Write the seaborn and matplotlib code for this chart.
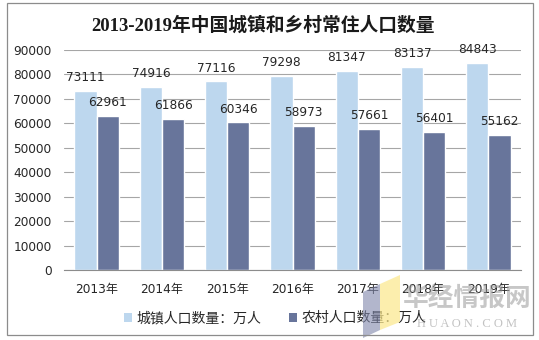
import matplotlib
matplotlib.use("Agg")
import matplotlib.pyplot as plt
import seaborn as sns
import pandas as pd
from matplotlib.patches import Rectangle, Polygon
from matplotlib.ticker import FixedLocator, MultipleLocator

years = ["2013年", "2014年", "2015年", "2016年", "2017年", "2018年", "2019年"]
urban = [73111, 74916, 77116, 79298, 81347, 83137, 84843]
rural = [62961, 61866, 60346, 58973, 57661, 56401, 55162]
series_names = ["城镇人口数量：万人", "农村人口数量：万人"]
title = "2013-2019年中国城镇和乡村常住人口数量"
colors = ["#BDD7EE", "#68759B"]

sns.set_theme(style="white")
plt.rcParams["font.family"] = ["DejaVu Sans", "Noto Sans CJK SC"]

df = pd.DataFrame({
    "year": years * 2,
    "value": urban + rural,
    "series": [series_names[0]] * len(years) + [series_names[1]] * len(years),
})

fig = plt.figure(figsize=(5.39, 3.40), dpi=100)
fig.patch.set_facecolor("white")
ax = fig.add_axes([64 / 539, 1 - 270 / 340, 457 / 539, 220 / 340])

sns.barplot(data=df, x="year", y="value", hue="series", palette=colors,
            width=0.68, gap=0, saturation=1, legend=False, ax=ax, zorder=3)

ax.set_ylim(0, 90000)
ax.set_xlim(-0.5, len(years) - 0.5)
ax.yaxis.set_major_locator(MultipleLocator(10000))
ax.grid(axis="y", color="#A6A6A6", linewidth=0.8, zorder=0)
ax.grid(axis="x", visible=False)
ax.set_axisbelow(True)
for s in ["left", "right", "top"]:
    ax.spines[s].set_visible(False)
ax.spines["bottom"].set_color("#8C8C8C")
ax.spines["bottom"].set_linewidth(0.8)
ax.spines["bottom"].set_zorder(4)
ax.set_xlabel("")
ax.set_ylabel("")
ax.tick_params(axis="y", length=0, pad=9, labelsize=8.7, labelcolor="#262626")
ax.tick_params(axis="x", which="major", length=0, pad=9, labelsize=8.7, labelcolor="#262626")
ax.xaxis.set_minor_locator(FixedLocator([i - 0.5 for i in range(len(years) + 1)]))
ax.tick_params(axis="x", which="minor", length=4, width=0.8, color="#8C8C8C", direction="out")

for cont in ax.containers:
    for bar in cont:
        h = bar.get_height()
        ax.annotate(f"{int(round(h))}", (bar.get_x() + bar.get_width() / 2, h),
                    xytext=(0, 5), textcoords="offset points", ha="center", va="bottom",
                    fontsize=8.7, color="#262626", zorder=5)

fig.text(0.488, 1 - 26 / 340, title, ha="center", va="center", fontsize=13.5,
         fontweight="bold", family=["Liberation Serif", "Noto Sans CJK SC"], color="#1A1A1A")

handles = [Rectangle((0, 0), 1, 1, facecolor=c, edgecolor="none") for c in colors]
fig.legend(handles, series_names, loc="center", bbox_to_anchor=(0.51, 1 - 318 / 340),
           ncol=2, frameon=False, fontsize=10, handlelength=0.6, handleheight=0.6,
           handletextpad=0.3, columnspacing=2.0, labelcolor="#262626")

# watermark
fig.patches.append(Polygon([(363 / 539, 1 - 292 / 340), (380 / 539, 1 - 284 / 340),
                            (380 / 539, 1 - 330 / 340), (363 / 539, 1 - 338 / 340)],
                           closed=True, transform=fig.transFigure, facecolor="#7F86AA",
                           alpha=0.6, edgecolor="none", zorder=10))
fig.patches.append(Polygon([(380 / 539, 1 - 284 / 340), (400 / 539, 1 - 275 / 340),
                            (400 / 539, 1 - 322 / 340), (380 / 539, 1 - 330 / 340)],
                           closed=True, transform=fig.transFigure, facecolor="#FCE88A",
                           alpha=0.7, edgecolor="none", zorder=10))
fig.text(467 / 539, 1 - 298 / 340, "华经情报网", ha="center", va="center", fontsize=18.5,
         fontweight="bold", color="#9A9A9A", alpha=0.55, family=["Noto Sans CJK SC"], zorder=11)
fig.text(467 / 539, 1 - 324 / 340, "H U A O N . C O M", ha="center", va="center", fontsize=9,
         color="#9A9A9A", alpha=0.6, family=["Liberation Serif"], zorder=11)

# outer border
fig.patches.append(Rectangle((7 / 539, 1 - 335 / 340), 526 / 539, 332 / 340,
                             transform=fig.transFigure, fill=False, edgecolor="#8C8C8C",
                             linewidth=0.9, zorder=12))

fig.savefig("out.png", dpi=100, facecolor="white")
